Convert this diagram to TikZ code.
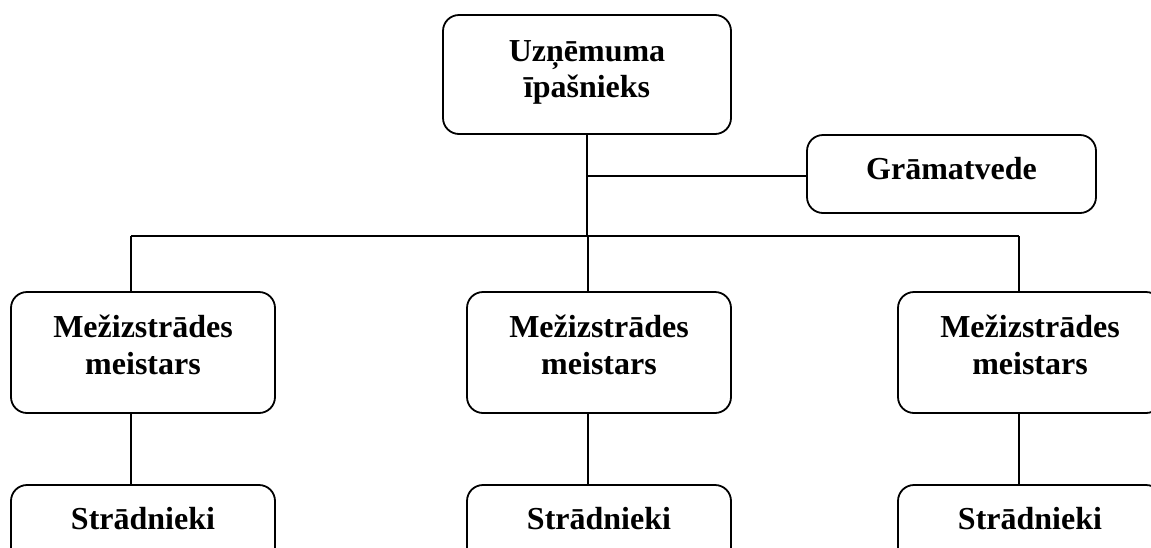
\documentclass[tikz,border=0pt]{standalone}
\usepackage{fontspec}
\setmainfont{Liberation Serif}
\begin{document}
\begin{tikzpicture}[x=1pt,y=-1pt,
  box/.style={draw=black,line width=1.8pt,rounded corners=16pt,inner sep=0pt,
    font=\fontsize{32}{37}\selectfont\bfseries,align=center},
  link/.style={draw=black,line width=1.8pt}]
\useasboundingbox[fill=white] (0,0) rectangle (1151,547);
\clip (0,0) rectangle (1151,547);
\node[box,minimum width=288pt,minimum height=119pt,text height=60pt,text depth=15pt] (top) at (587,74.5) {Uzņēmuma\\[-1pt]īpašnieks};
\node[box,minimum width=289pt,minimum height=78pt,text height=21pt,text depth=11pt] (gram) at (951.5,174) {Grāmatvede};
\foreach \n/\x in {m1/143,m2/599,m3/1030}{
  \node[box,minimum width=264pt,minimum height=121pt,text height=60pt,text depth=17pt] (\n) at (\x,352.5) {Mežizstrādes\\meistars};
}
\foreach \n/\x in {s1/143,s2/599,s3/1030}{
  \node[box,minimum width=264pt,minimum height=120pt,text height=21pt,text depth=53pt] (\n) at (\x,545) {Strādnieki};
}
\coordinate (bus) at (587,236);
\coordinate (branch) at (587,176);
\draw[link] (top.south) -- (bus);
\draw[link] (branch) -- (branch -| gram.west);
\draw[link] ([xshift=-12pt]m1.north |- bus) -- ([xshift=-11pt]m3.north |- bus);
\draw[link] ([xshift=-12pt]m1.north |- bus) -- ([xshift=-12pt]m1.north);
\draw[link] ([xshift=-11pt]m2.north |- bus) -- ([xshift=-11pt]m2.north);
\draw[link] ([xshift=-11pt]m3.north |- bus) -- ([xshift=-11pt]m3.north);
\draw[link] ([xshift=-12pt]m1.south) -- ([xshift=-12pt]s1.north);
\draw[link] ([xshift=-11pt]m2.south) -- ([xshift=-11pt]s2.north);
\draw[link] ([xshift=-11pt]m3.south) -- ([xshift=-11pt]s3.north);
\end{tikzpicture}
\end{document}
